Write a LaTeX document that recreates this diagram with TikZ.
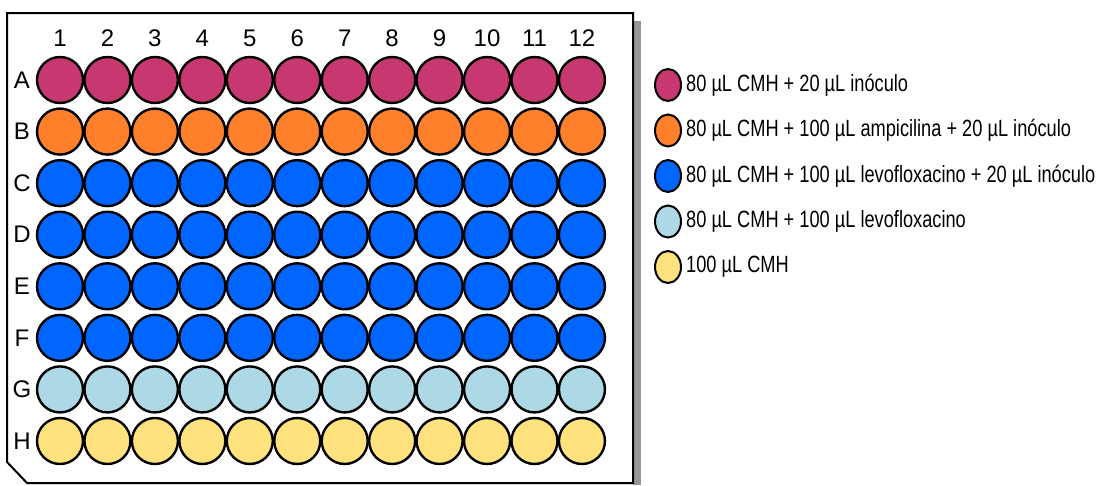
\documentclass[tikz,border=0pt]{standalone}
\usepackage{fontspec}
\setmainfont{Liberation Sans}
\newfontfamily\legendfont[FakeStretch=0.775]{Liberation Sans}
\usepackage{xcolor}
\usepackage{tikz}

\definecolor{wellmagenta}{RGB}{200,56,112}
\definecolor{wellorange}{RGB}{255,128,42}
\definecolor{wellblue}{RGB}{0,102,255}
\definecolor{welllight}{RGB}{173,216,230}
\definecolor{wellyellow}{RGB}{255,225,125}
\definecolor{plateshadow}{RGB}{150,150,150}

\tikzset{
  well/.style={draw=black,line width=2.4pt},
  platelabel/.style={font=\fontsize{24}{24}\selectfont,inner sep=0pt},
  legendtext/.style={font=\legendfont\fontsize{23.5}{23.5}\selectfont,anchor=west,inner sep=0pt}
}

\begin{document}
\begin{tikzpicture}[x=1pt,y=-1pt]
      \useasboundingbox (0,0) rectangle (1099,485);
      % plate with shadow
      \draw[draw=none,fill=plateshadow]
        (633,21) rectangle (641,485);
      \draw[line width=2pt,fill=white]
        (7,13) -- (633,13) -- (633,483) -- (27,483) -- (7,462) -- cycle;
      % column numbers
      \foreach \j in {1,...,12}
        \node[platelabel] (col\j) at ({60+47.45*(\j-1)},38) {\j};
      % rows of wells
      \foreach \r/\c [count=\i] in {A/wellmagenta,B/wellorange,C/wellblue,
          D/wellblue,E/wellblue,F/wellblue,G/welllight,H/wellyellow} {
        \node[platelabel] (row\r) at (22,{80+51.57*(\i-1)}) {\r};
        \foreach \j in {1,...,12}
          \draw[well,fill=\c] ({60+47.45*(\j-1)},{80+51.57*(\i-1)}) circle (23);
      }
      % legend
      \foreach \c/\t [count=\i] in {
          wellmagenta/{80 µL CMH + 20 µL inóculo},
          wellorange/{80 µL CMH + 100 µL ampicilina + 20 µL inóculo},
          wellblue/{80 µL CMH + 100 µL levofloxacino + 20 µL inóculo},
          welllight/{80 µL CMH + 100 µL levofloxacino},
          wellyellow/{100 µL CMH}} {
        \draw[line width=2pt,fill=\c] (668,{85+45.5*(\i-1)}) ellipse (13 and 16);
        \node[legendtext] (key\i) at (686,{85+45.5*(\i-1)}) {\t};
      }
    \end{tikzpicture}
\end{document}
